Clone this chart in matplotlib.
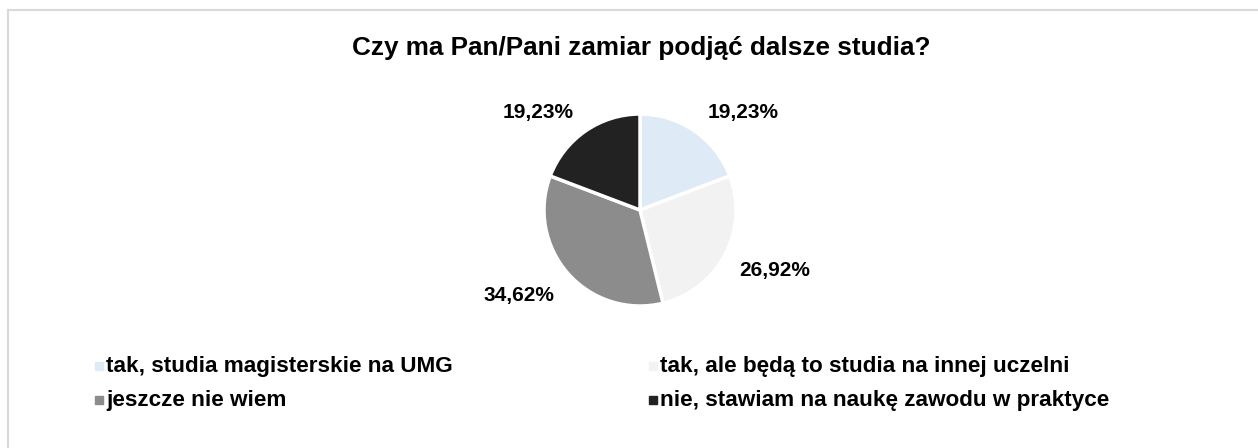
import matplotlib
matplotlib.use('Agg')
import matplotlib.pyplot as plt
import numpy as np

plt.rcParams['font.family'] = ['Liberation Sans', 'DejaVu Sans']
plt.rcParams['font.weight'] = 'bold'

title = 'Czy ma Pan/Pani zamiar podjąć dalsze studia?'
categories = ['tak, studia magisterskie na UMG',
              'tak, ale będą to studia na innej uczelni',
              'jeszcze nie wiem',
              'nie, stawiam na naukę zawodu w praktyce']
shares = [19.23, 26.92, 34.62, 19.23]
colors = ['#DEEAF6', '#F2F2F2', '#8C8C8C', '#222222']

# label placement tweaks (distance in radii, angle shift in degrees)
label_dist = [1.48, 1.54, 1.55, 1.47]
label_shift = [-11.8, 3.7, -6.3, 11.5]

W, H = 1258, 448
fig = plt.figure(figsize=(W / 100, H / 100), dpi=100)

# frame lines (top and left only visible)
fig.add_artist(plt.Line2D([8 / W, 1], [1 - 10 / H, 1 - 10 / H], color='#D9D9D9', lw=1.5))
fig.add_artist(plt.Line2D([8 / W, 8 / W], [0, 1 - 10 / H], color='#D9D9D9', lw=1.5))

fig.text(641 / W, 1 - 48 / H, title, ha='center', va='center', fontsize=18.8, fontweight='bold')

cx, cy, r = 640, 210, 96
ax = fig.add_axes([(cx - r) / W, 1 - (cy + r) / H, 2 * r / W, 2 * r / H])
wedges, _ = ax.pie(shares, colors=colors, startangle=90, counterclock=False,
                   wedgeprops=dict(edgecolor='white', linewidth=2.5))
ax.set_xlim(-1, 1)
ax.set_ylim(-1, 1)
ax.set_aspect('equal')
ax.axis('off')

for i, w in enumerate(wedges):
    ang = np.deg2rad((w.theta1 + w.theta2) / 2 + label_shift[i])
    d = label_dist[i]
    ax.text(d * np.cos(ang), d * np.sin(ang), f'{shares[i]:.2f}%'.replace('.', ','),
            ha='center', va='center', fontsize=15, fontweight='bold', clip_on=False)

# legend
leg_x = [95, 649]
leg_y = [366, 400]
for i, cat in enumerate(categories):
    x = leg_x[i % 2]
    y = leg_y[i // 2]
    fig.patches.append(plt.Rectangle((x / W, 1 - (y + 4) / H), 8 / W, 8 / H,
                                     transform=fig.transFigure, color=colors[i]))
    fig.text((x + 11) / W, 1 - y / H, cat, ha='left', va='center',
             fontsize=16.2, fontweight='bold')

fig.savefig('out.png', dpi=100, facecolor='white')
